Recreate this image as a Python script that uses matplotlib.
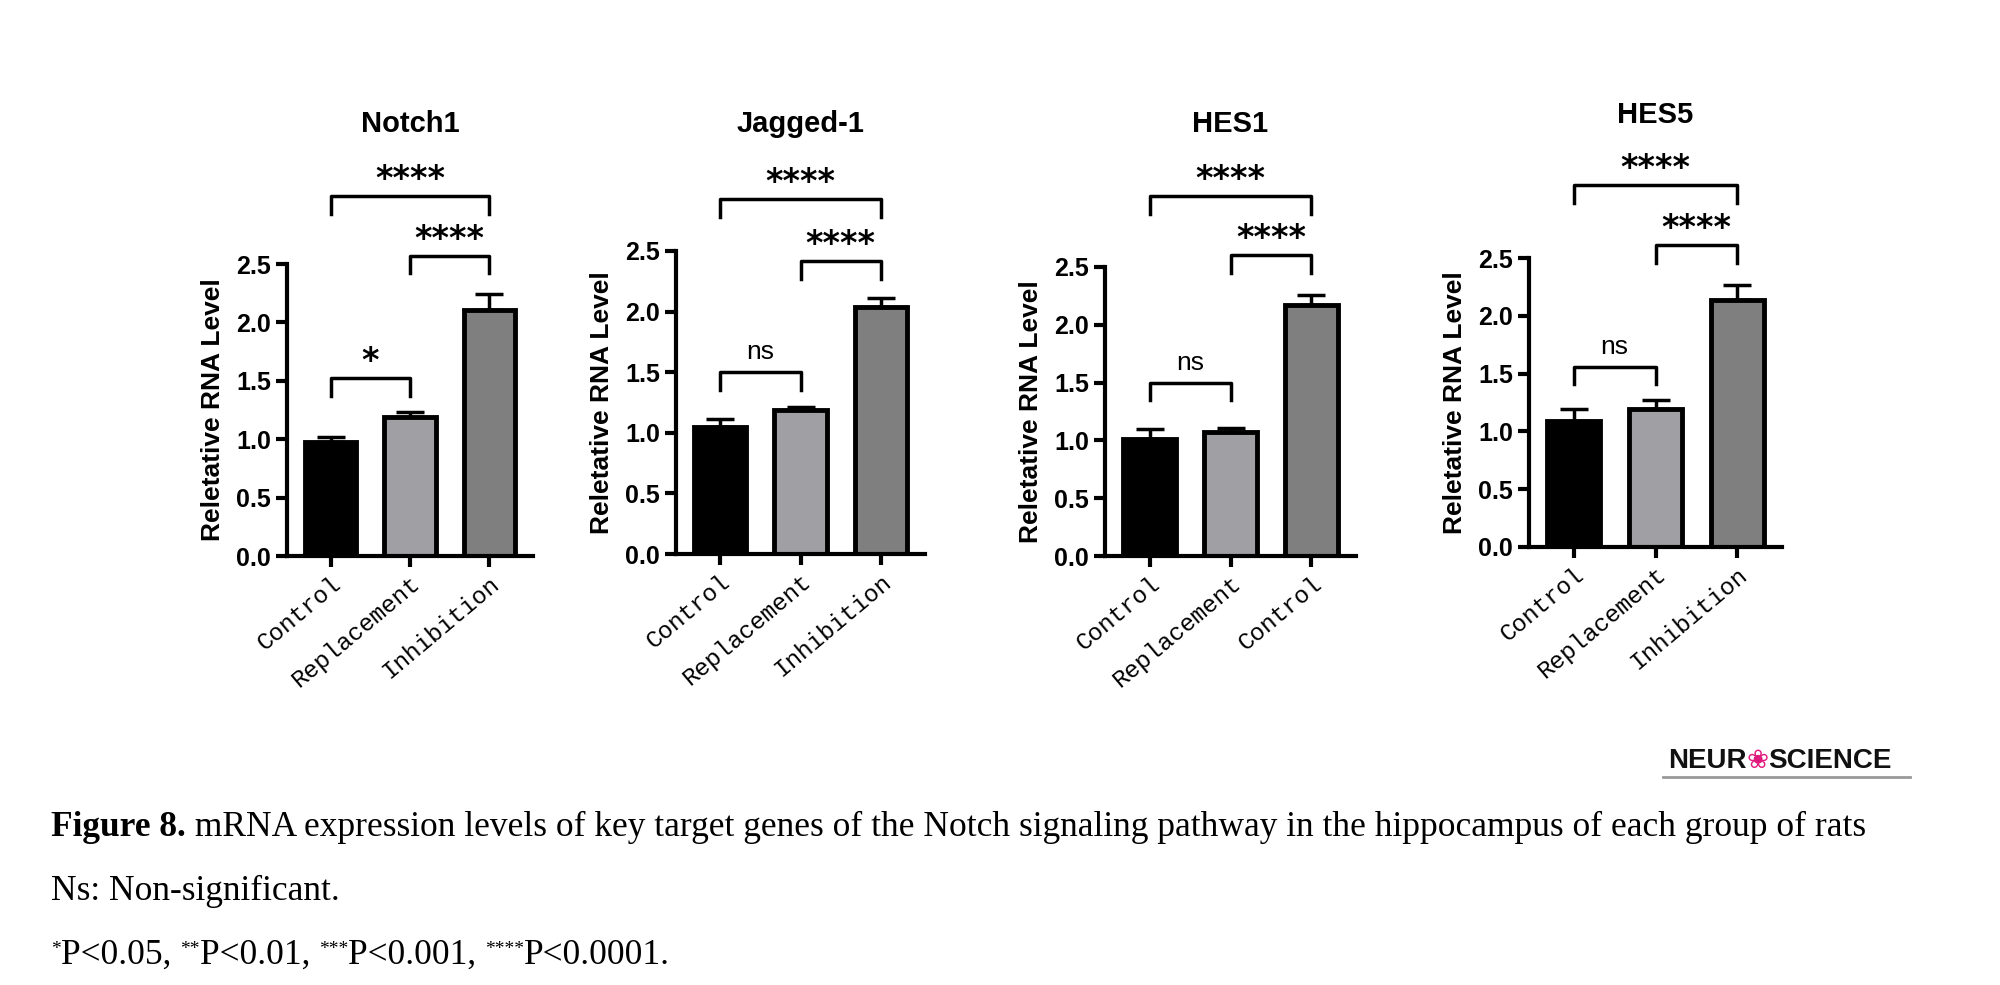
import numpy as np
import matplotlib
matplotlib.use("Agg")
import matplotlib.pyplot as plt

titles = ["Notch1", "Jagged-1", "HES1", "HES5"]
groups = [["Control", "Replacement", "Inhibition"],
          ["Control", "Replacement", "Inhibition"],
          ["Control", "Replacement", "Control"],
          ["Control", "Replacement", "Inhibition"]]
means = [[0.98, 1.19, 2.11],
         [1.05, 1.19, 2.04],
         [1.01, 1.07, 2.17],
         [1.09, 1.19, 2.14]]
errs = [[0.04, 0.04, 0.13],
        [0.06, 0.02, 0.07],
        [0.09, 0.04, 0.09],
        [0.10, 0.08, 0.13]]
# brackets: (i, j, height, label)
sig = [[(0, 1, 1.52, "*"), (1, 2, 2.57, "****"), (0, 2, 3.08, "****")],
       [(0, 1, 1.50, "ns"), (1, 2, 2.42, "****"), (0, 2, 2.93, "****")],
       [(0, 1, 1.50, "ns"), (1, 2, 2.60, "****"), (0, 2, 3.11, "****")],
       [(0, 1, 1.56, "ns"), (1, 2, 2.61, "****"), (0, 2, 3.13, "****")]]
bar_colors = ["#000000", "#a0a0a4", "#7f7f7f"]

W, H = 2000, 985
fig = plt.figure(figsize=(20, 9.85), dpi=100)
renderer = fig.canvas.get_renderer()
# axes boxes in pixels: x0, x1, y0 (value 0), y2.5
boxes = [(287, 533, 556, 264), (676, 925, 554, 251),
         (1105, 1356, 556, 267), (1529, 1782, 547, 258)]
title_y = [124, 124, 124, 115]

for k in range(4):
    x0, x1, yb, yt = boxes[k]
    ax = fig.add_axes([x0 / W, 1 - yb / H, (x1 - x0) / W, (yb - yt) / H])
    xs = np.arange(3)
    ax.bar(xs, means[k], width=0.65, color=bar_colors, edgecolor="black", linewidth=3.5, zorder=2)
    ax.errorbar(xs, means[k], yerr=[np.zeros(3), errs[k]], fmt="none", ecolor="black",
                elinewidth=2.5, capsize=10, capthick=2.5, zorder=1)
    ax.set_xlim(-0.55, 2.55)
    ax.set_ylim(0, 2.5)
    ax.set_yticks([0, 0.5, 1.0, 1.5, 2.0, 2.5])
    ax.set_yticklabels(["0.0", "0.5", "1.0", "1.5", "2.0", "2.5"],
                       fontfamily="Liberation Sans", fontweight="bold", fontsize=18)
    ax.set_xticks(xs)
    ax.set_xticklabels(groups[k], rotation=40, ha="right", rotation_mode="anchor",
                       fontfamily="Liberation Mono", fontsize=17.5)
    for s in ["top", "right"]:
        ax.spines[s].set_visible(False)
    for s in ["left", "bottom"]:
        ax.spines[s].set_linewidth(3)
    ax.tick_params(width=3, length=8, direction="out")
    ax.set_ylabel("Reletative RNA Level", fontfamily="Liberation Sans", fontweight="bold",
                  fontsize=19, labelpad=8)
    for i, j, h, lab in sig[k]:
        ax.plot([i, i, j, j], [h - 0.15, h, h, h - 0.15], color="black", lw=2.5, clip_on=False)
        if lab == "ns":
            ax.text((i + j) / 2, h + 0.07, lab, ha="center", va="bottom",
                    fontfamily="Liberation Sans", fontsize=19)
        else:
            ax.text((i + j) / 2, h + 0.0, lab, ha="center", va="bottom",
                    fontfamily="DejaVu Sans", fontweight="bold", fontsize=24)
    fig.text((x0 + x1) / 2 / W, 1 - title_y[k] / H, titles[k], ha="center", va="center",
             fontfamily="Liberation Sans", fontweight="bold", fontsize=21)


def text_run(x, y, parts):
    # parts: (string, kwargs); drawn left to right, x in pixels
    for s, kw in parts:
        dy = kw.pop("dy", 0)
        t = fig.text(x / W, 1 - (y + dy) / H, s, ha="left", va="baseline", **kw)
        x += t.get_window_extent(renderer).width
    return x


# journal logo
logo = dict(fontfamily="Liberation Sans", fontweight="bold", fontsize=20, color="#111111")
text_run(1668, 768, [("NEUR", dict(logo)),
                     ("\u2740", dict(fontfamily="DejaVu Sans", fontsize=19, color="#e0197d")),
                     ("SCIENCE", dict(logo))])
fig.lines.append(plt.Line2D([1663 / W, 1910 / W], [1 - 777 / H] * 2,
                            transform=fig.transFigure, color="#999999", lw=2))

serif = dict(fontfamily="Liberation Serif", fontsize=25.5)
sup = dict(fontfamily="Liberation Serif", fontsize=14, dy=-10)
text_run(51, 836, [("Figure 8.", dict(serif, fontweight="bold")),
                   (" mRNA expression levels of key target genes of the Notch signaling pathway in the hippocampus of each group of rats", dict(serif))])
text_run(51, 900, [("Ns: Non-significant.", dict(serif))])
text_run(51, 964, [("*", dict(sup)), ("P<0.05, ", dict(serif)),
                   ("**", dict(sup)), ("P<0.01, ", dict(serif)),
                   ("***", dict(sup)), ("P<0.001, ", dict(serif)),
                   ("****", dict(sup)), ("P<0.0001.", dict(serif))])

fig.savefig("out.png", dpi=100)
